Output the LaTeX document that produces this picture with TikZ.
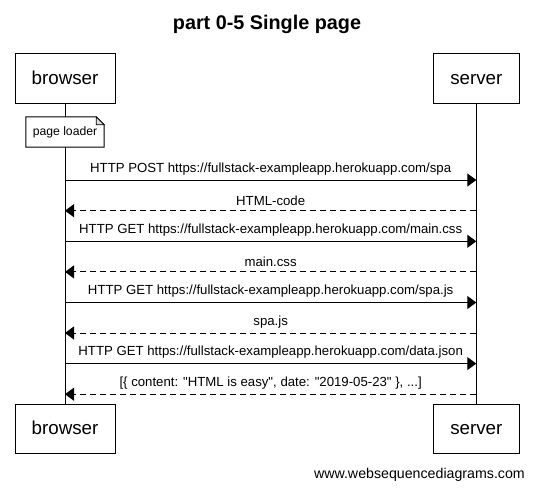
\documentclass[tikz,border=0pt]{standalone}
\usepackage{fontspec}
\setmainfont{Liberation Sans}[Ligatures=TeXOff]
\usetikzlibrary{arrows.meta}
\begin{document}
\begin{tikzpicture}[x=1pt,y=-1pt,
  actor/.style={draw,line width=1pt,fill=white,minimum height=49.5pt,inner sep=0pt,
    font=\fontsize{18.75}{20}\selectfont,text height=11.2pt,text depth=0pt},
  life/.style={line width=1pt},
  msg/.style={line width=1pt,-{Triangle[length=9pt,width=13pt]}},
  ret/.style={msg,dash pattern=on 6pt off 4pt},
  lbl/.style={font=\fontsize{13.2}{15}\selectfont,anchor=base,inner sep=0pt},
  notebox/.style={minimum width=78pt,minimum height=30pt,inner sep=0pt,
    font=\fontsize{12.2}{14}\selectfont,text height=7.4pt,text depth=0pt}]
\useasboundingbox (0,0) rectangle (534,488);
\node[font=\bfseries\fontsize{19.8}{22}\selectfont,anchor=base] (title) at (267,29) {part 0-5 Single page};
% actors
\node[actor,minimum width=100pt] (bt) at (65,78.7) {browser};
\node[actor,minimum width=86pt] (st) at (476.3,78.7) {server};
\node[actor,minimum width=100pt] (bb) at (65,429) {browser};
\node[actor,minimum width=86pt] (sb) at (476.3,429) {server};
% lifelines
\draw[life] (bt.south) -- (bb.north);
\draw[life] (st.south) -- (sb.north);
% note
\node[notebox] (note) at (65,132) {};
\draw[line width=1pt,fill=white] (note.south west) -- (note.north west) -- ([xshift=-8pt]note.north east)
  -- ([yshift=-8pt]note.north east) -- (note.south east) -- cycle;
\draw[line width=0.8pt,fill=black!15] ([xshift=-8pt]note.north east) -- ([xshift=-8pt,yshift=-8pt]note.north east) -- ([yshift=-8pt]note.north east) -- cycle;
\node[notebox] (notetext) at (note.center) {page loader};
% message coordinates
\foreach \i/\y in {1/180,2/210.7,3/241.3,4/271.9,5/302.5,6/333,7/363.6,8/394.2}{
  \coordinate (b\i) at (bt.south |- 0,\y);
  \coordinate (s\i) at (st.south |- 0,\y);
}
\draw[msg] (b1) -- (s1) node[lbl,midway,above=4.5pt] {HTTP POST https://fullstack-exampleapp.herokuapp.com/spa};
\draw[ret] (s2) -- (b2) node[lbl,midway,above=4.5pt] {HTML-code};
\draw[msg] (b3) -- (s3) node[lbl,midway,above=4.5pt] {HTTP GET https://fullstack-exampleapp.herokuapp.com/main.css};
\draw[ret] (s4) -- (b4) node[lbl,midway,above=4.5pt] {main.css};
\draw[msg] (b5) -- (s5) node[lbl,midway,above=4.5pt] {HTTP GET https://fullstack-exampleapp.herokuapp.com/spa.js};
\draw[ret] (s6) -- (b6) node[lbl,midway,above=4.5pt] {spa.js};
\draw[msg] (b7) -- (s7) node[lbl,midway,above=4.5pt] {HTTP GET https://fullstack-exampleapp.herokuapp.com/data.json};
\draw[ret] (s8) -- (b8) node[lbl,midway,above=4.5pt] {[\{ content: "HTML is easy", date: "2019-05-23" \}, ...]};
\node[font=\fontsize{14.2}{16}\selectfont,anchor=base east,inner sep=0pt] (foot) at (525,478) {www.websequencediagrams.com};
\end{tikzpicture}
\end{document}
